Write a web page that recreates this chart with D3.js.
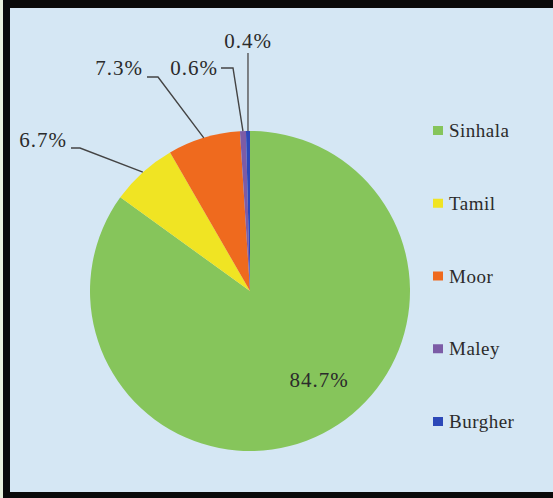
<!DOCTYPE html>
<html>
<head>
<meta charset="utf-8">
<script src="https://cdn.jsdelivr.net/npm/d3@7"></script>
<style>
  body { margin: 0; background: #e8f0dc; }
  svg { display: block; }
  text { font-family: "Liberation Serif", "Times New Roman", serif; fill: #2b2b2b; }
</style>
</head>
<body>
<svg width="553" height="498"></svg>
<script>
// ethnic groups and shares (%)
var groups = ["Sinhala", "Tamil", "Moor", "Maley", "Burgher"];
var shares = [84.7, 6.7, 7.3, 0.6, 0.4];
var colors = ["#86c55b", "#f0e423", "#ef6a1e", "#7c5ca6", "#2c48b8"];

var width = 553, height = 498;
var svg = d3.select("svg");

// frame + light blue panel
svg.append("rect").attr("x", 3).attr("y", 0).attr("width", width - 3).attr("height", height).attr("fill", "#0a0a0a");
svg.append("rect").attr("x", 10).attr("y", 8).attr("width", width - 10).attr("height", 484).attr("fill", "#d5e7f4");

var cx = 250, cy = 291, r = 160;

var pie = d3.pie().sort(null).value(function(d){ return d; });
var arcs = pie(shares);
var arc = d3.arc().innerRadius(0).outerRadius(r);
var edge = d3.arc().innerRadius(r).outerRadius(r);

var g = svg.append("g").attr("transform", "translate(" + cx + "," + cy + ")");

g.selectAll("path.slice")
  .data(arcs)
  .enter().append("path")
  .attr("class", "slice")
  .attr("d", arc)
  .attr("fill", function(d, i){ return colors[i]; });

// label layout: where the text sits (relative to pie center), and the elbow of the leader line
var labelLayout = [
  {dx: 69,  dy: 96,   anchor: "middle", elbow: null},
  {dx: -183, dy: -144, anchor: "end",   elbow: [[-179, -143], [-170, -143]]},
  {dx: -107, dy: -216, anchor: "end",   elbow: [[-103, -214], [-92, -214]]},
  {dx: -32,  dy: -216, anchor: "end",   elbow: [[-29, -223], [-17, -223]]},
  {dx: -2,   dy: -243, anchor: "middle", elbow: "vertical"}
];

var line = d3.line();

arcs.forEach(function(d, i){
  var L = labelLayout[i];
  var p = edge.centroid(d);
  if (L.elbow === "vertical") {
    g.append("path").attr("d", line([[p[0], -238], p]))
      .attr("fill", "none").attr("stroke", "#555").attr("stroke-width", 1.4);
  } else if (L.elbow) {
    g.append("path").attr("d", line(L.elbow.concat([p])))
      .attr("fill", "none").attr("stroke", "#444").attr("stroke-width", 1.4);
  }
  g.append("text")
    .attr("x", L.dx).attr("y", L.dy)
    .attr("text-anchor", L.anchor)
    .attr("font-size", "21px")
    .attr("letter-spacing", "1px")
    .text(shares[i] + "%");
});

// legend
var legendY = d3.scalePoint().domain(groups).range([137, 428]);
var leg = svg.append("g");
groups.forEach(function(name, i){
  var y = legendY(name);
  leg.append("rect").attr("x", 433).attr("y", y - 11).attr("width", 10).attr("height", 9).attr("fill", colors[i]);
  leg.append("text").attr("x", 449).attr("y", y)
    .attr("font-size", "19px").attr("letter-spacing", "0.5px")
    .text(name);
});
</script>
</body>
</html>
